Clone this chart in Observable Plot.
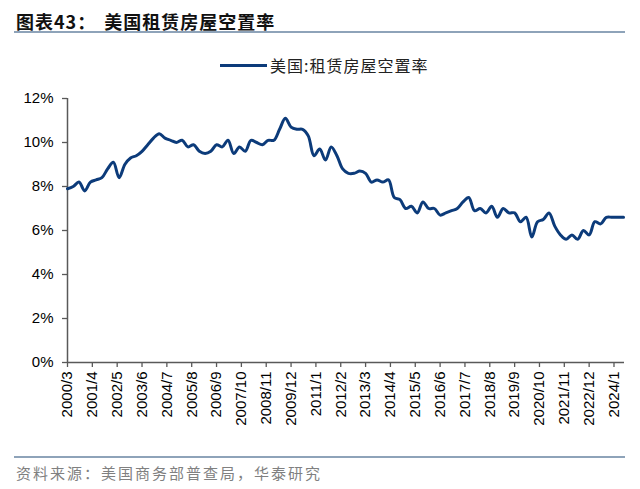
<!DOCTYPE html>
<html>
<head>
<meta charset="utf-8">
<script src="https://cdn.jsdelivr.net/npm/d3@7"></script>
<script src="https://cdn.jsdelivr.net/npm/@observablehq/plot@0.6"></script>
<style>
  html, body { margin: 0; padding: 0; background: #fff; }
  #wrap { position: relative; width: 640px; height: 489px; overflow: hidden; font-family: "Noto Sans CJK SC", sans-serif; }
  #title { position: absolute; left: 16px; top: 8px; font-size: 18px; font-weight: bold; letter-spacing: 1px; color: #111; white-space: nowrap; }
  #title .b { margin-left: 8px; }
  .hr { position: absolute; left: 14px; width: 611px; height: 2px; background: #8ea3b9; }
  #legend { position: absolute; left: 220px; top: 54px; height: 22px; display: flex; align-items: center; white-space: nowrap; }
  #legend .sw { width: 47px; height: 3px; background: #0c3b7a; margin-right: 3px; }
  #legend .tx { font-size: 16px; letter-spacing: 1px; color: #222; }
  #source { position: absolute; left: 16px; top: 462px; font-size: 15px; letter-spacing: 2px; color: #808080; white-space: nowrap; }
  #chart { position: absolute; left: 0; top: 80px; }
</style>
</head>
<body>
<div id="wrap">
  <div id="title">图表43：<span class="b">美国租赁房屋空置率</span></div>
  <div class="hr" style="top:31px"></div>
  <div id="legend"><div class="sw"></div><div class="tx" id="legendText"></div></div>
  <div id="chart"></div>
  <div class="hr" style="top:456px"></div>
  <div id="source">资料来源：美国商务部普查局，华泰研究</div>
</div>
<script>
const seriesName = "美国:租赁房屋空置率";

// quarterly periods (year/month of quarter end)
const periods = [
  "2000/3","2000/6","2000/9","2000/12",
  "2001/3","2001/6","2001/9","2001/12",
  "2002/3","2002/6","2002/9","2002/12",
  "2003/3","2003/6","2003/9","2003/12",
  "2004/3","2004/6","2004/9","2004/12",
  "2005/3","2005/6","2005/9","2005/12",
  "2006/3","2006/6","2006/9","2006/12",
  "2007/3","2007/6","2007/9","2007/12",
  "2008/3","2008/6","2008/9","2008/12",
  "2009/3","2009/6","2009/9","2009/12",
  "2010/3","2010/6","2010/9","2010/12",
  "2011/3","2011/6","2011/9","2011/12",
  "2012/3","2012/6","2012/9","2012/12",
  "2013/3","2013/6","2013/9","2013/12",
  "2014/3","2014/6","2014/9","2014/12",
  "2015/3","2015/6","2015/9","2015/12",
  "2016/3","2016/6","2016/9","2016/12",
  "2017/3","2017/6","2017/9","2017/12",
  "2018/3","2018/6","2018/9","2018/12",
  "2019/3","2019/6","2019/9","2019/12",
  "2020/3","2020/6","2020/9","2020/12",
  "2021/3","2021/6","2021/9","2021/12",
  "2022/3","2022/6","2022/9","2022/12",
  "2023/3","2023/6","2023/9","2023/12",
  "2024/3","2024/6"
];

// rental vacancy rate, %
const vacancy = [
  7.9, 8.0, 8.2, 7.8,
  8.2, 8.3, 8.4, 8.8,
  9.1, 8.4, 9.0, 9.3,
  9.4, 9.6, 9.9, 10.2,
  10.4, 10.2, 10.1, 10.0,
  10.1, 9.8, 9.9, 9.6,
  9.5, 9.6, 9.9, 9.8,
  10.1, 9.5, 9.8, 9.6,
  10.1, 10.0, 9.9, 10.1,
  10.1, 10.6, 11.1, 10.7,
  10.6, 10.6, 10.3, 9.4,
  9.7, 9.2, 9.8, 9.4,
  8.8, 8.6, 8.6, 8.7,
  8.6, 8.2, 8.3, 8.2,
  8.3, 7.5, 7.4, 7.0,
  7.1, 6.8, 7.3, 7.0,
  7.0, 6.7, 6.8, 6.9,
  7.0, 7.3, 7.5, 6.9,
  7.0, 6.8, 7.1, 6.6,
  7.0, 6.8, 6.8, 6.4,
  6.6, 5.7, 6.4, 6.5,
  6.8, 6.2, 5.8, 5.6,
  5.8, 5.6, 6.0, 5.8,
  6.4, 6.3, 6.6, 6.6,
  6.6, 6.6
];

const tickLabels = [
  "2000/3","2001/4","2002/5","2003/6","2004/7","2005/8","2006/9","2007/10",
  "2008/11","2009/12","2011/1","2012/2","2013/3","2014/4","2015/5","2016/6",
  "2017/7","2018/8","2019/9","2020/10","2021/11","2022/12","2024/1"
];

const yTicks = [0, 2, 4, 6, 8, 10, 12];

// month index relative to 2000/3
const monthIndex = s => { const [y, m] = s.split("/").map(Number); return (y - 2000) * 12 + (m - 3); };

const data = periods.map((p, i) => ({ t: monthIndex(p), v: vacancy[i] }));
const tickPos = tickLabels.map(monthIndex);
const labelOf = new Map(tickPos.map((t, i) => [t, tickLabels[i]]));

document.getElementById("legendText").textContent = seriesName;

const axisColor = "#595959";
const chart = Plot.plot({
  width: 640,
  height: 375,
  marginLeft: 67,
  marginRight: 16,
  marginTop: 18,
  marginBottom: 93,
  style: { fontFamily: "'Liberation Sans', Arial, sans-serif", background: "transparent", color: "#000" },
  x: { type: "linear", domain: [0, 291.5] },
  y: { domain: [0, 12] },
  marks: [
    Plot.axisY({ ticks: yTicks, tickFormat: d => d + "%", tickSize: 5, tickPadding: 9, fontSize: 15, stroke: axisColor, strokeWidth: 1.3, label: null }),
    Plot.axisX({ ticks: tickPos, tickFormat: d => labelOf.get(d), tickSize: 5, tickPadding: 4, tickRotate: -90, fontSize: 15, stroke: axisColor, strokeWidth: 1.3, label: null }),
    Plot.ruleX([0], { stroke: axisColor, strokeWidth: 1.5 }),
    Plot.ruleY([0], { stroke: axisColor, strokeWidth: 1.5 }),
    Plot.line(data, { x: "t", y: "v", stroke: "#0c3b7a", strokeWidth: 3, curve: "catmull-rom" })
  ]
});
document.getElementById("chart").appendChild(chart);
</script>
</body>
</html>
